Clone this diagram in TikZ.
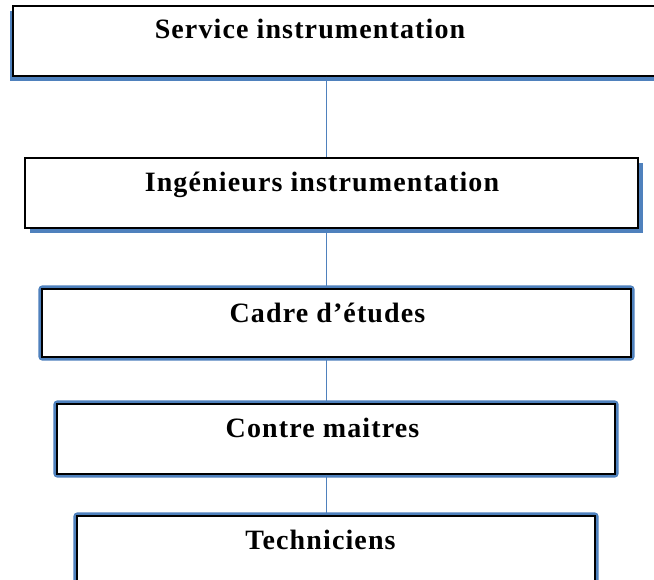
\documentclass[tikz,border=0pt]{standalone}
\usepackage{fontspec}
\setmainfont{Liberation Serif}
\newfontfamily\boxfont[LetterSpace=4]{Liberation Serif}
\usetikzlibrary{calc,shadows}
\definecolor{wblue}{HTML}{4F81BD}
\pgfdeclarelayer{bg}
\pgfsetlayers{bg,main}
\begin{document}
\begin{tikzpicture}[x=1pt,y=-1pt,
  boxst/.style={draw=black, line width=1.3pt, fill=white, rectangle, inner sep=0pt},
  glowst/.style={fill=wblue, rounded corners=4pt},
  lbl/.style={font=\boxfont\bfseries\fontsize{28}{32}\selectfont, anchor=base, inner sep=0pt},
  conn/.style={draw=wblue, line width=1pt}]
\useasboundingbox (0,0) rectangle (654,580);
\clip (0,0) rectangle (654,580);
\coordinate (lx) at (326,0);
\node[boxst, minimum width=687pt, minimum height=70pt,
  drop shadow={shadow xshift=-3pt, shadow yshift=-5pt, fill=wblue, opacity=1}] (b1) at (356.5,41) {};
\node[boxst, minimum width=613pt, minimum height=70pt,
  drop shadow={shadow xshift=5pt, shadow yshift=-5pt, fill=wblue, opacity=1}] (b2) at (331.5,193) {};
\node[boxst, minimum width=589pt, minimum height=68pt] (b3) at (336.5,323) {};
\node[boxst, minimum width=558pt, minimum height=70pt] (b4) at (336,439) {};
\node[boxst, minimum width=518pt, minimum height=74pt] (b5) at (336,553) {};
\begin{pgfonlayer}{bg}
\fill[white] (0,0) rectangle (654,580);
\fill[glowst] ($(b3.north west)+(-3,-3)$) rectangle ($(b3.south east)+(3,3)$);
\fill[glowst] ($(b4.north west)+(-3,-3)$) rectangle ($(b4.south east)+(3,3)$);
\fill[glowst] ($(b5.north west)+(-3,-3)$) rectangle ($(b5.south east)+(3,3)$);
\end{pgfonlayer}
\draw[conn] (b1.south -| lx) -- (b2.north -| lx);
\draw[conn] (b2.south -| lx) -- (b3.north -| lx);
\draw[conn] (b3.south -| lx) -- (b4.north -| lx);
\draw[conn] (b4.south -| lx) -- (b5.north -| lx);
\node[lbl] (t1) at (310,39) {Service instrumentation};
\node[lbl] (t2) at (322,192) {Ingénieurs instrumentation};
\node[lbl] (t3) at (327.5,323) {Cadre d’études};
\node[lbl] (t4) at (322.5,437) {Contre maitres};
\node[lbl] (t5) at (320.5,549) {Techniciens};
\end{tikzpicture}
\end{document}
